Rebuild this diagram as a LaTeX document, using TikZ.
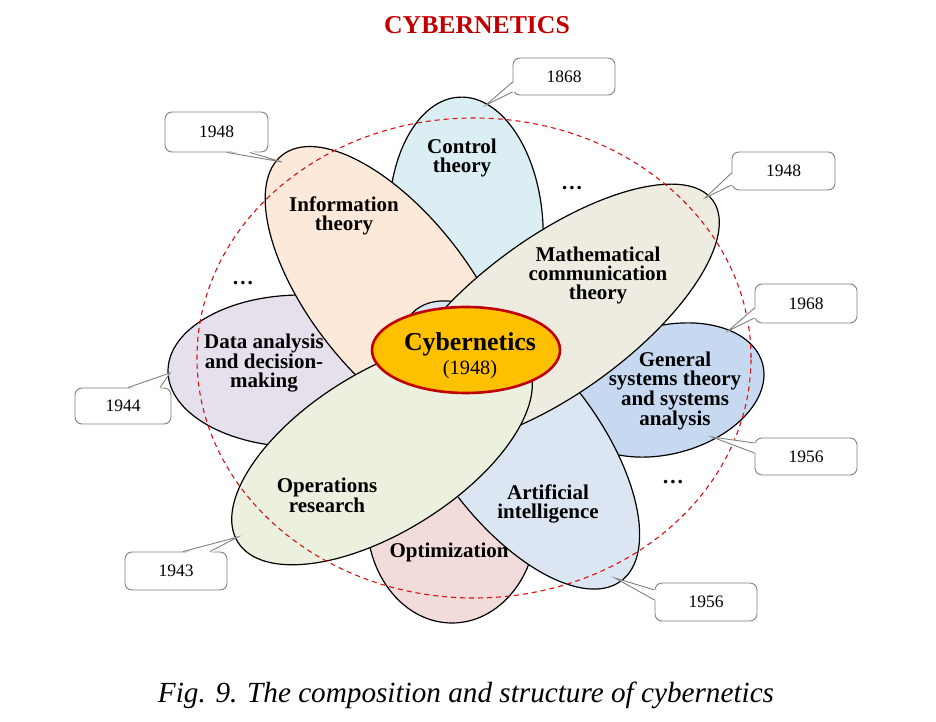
\documentclass[tikz,border=0pt]{standalone}
\usepackage{fontspec}
\setmainfont{Liberation Serif}
\usetikzlibrary{calc,shapes.geometric}
\definecolor{ctrl}{HTML}{DAEEF3}
\definecolor{info}{HTML}{FDE9D9}
\definecolor{mathc}{HTML}{EEECE1}
\definecolor{gensys}{HTML}{C6D9F1}
\definecolor{aicol}{HTML}{DCE6F2}
\definecolor{optim}{HTML}{F2DCDB}
\definecolor{opres}{HTML}{EBF1DE}
\definecolor{datac}{HTML}{E5E0EC}
\definecolor{cyb}{HTML}{FFC000}
\definecolor{darkred}{HTML}{C00000}
\definecolor{dashred}{HTML}{D81010}
\definecolor{callgray}{HTML}{808080}
\begin{document}
\begin{tikzpicture}[x=1pt,y=1pt,
  petal/.style={draw=black, line width=1.2pt},
  lbl/.style={font=\fontsize{21}{19}\selectfont\bfseries, align=center, inner sep=0pt},
  dots/.style={font=\fontsize{21.7}{20}\selectfont\bfseries, anchor=base, inner sep=0pt},
  yearbox/.style={draw=callgray, line width=0.9pt, fill=white, rounded corners=7pt,
    minimum width=102pt, minimum height=38pt, inner sep=0pt,
    font=\fontsize{17.5}{20}\selectfont},
  callline/.style={draw=callgray, line width=0.9pt, line join=miter}
]
\useasboundingbox (0,0) rectangle (936,722);

% petals (bottom to top)
\draw[petal, fill=ctrl, rotate around={3:(466,495)}] (466,495) ellipse [x radius=77pt, y radius=130pt];
\draw[petal, fill=datac] (301,351) ellipse [x radius=133pt, y radius=76pt];
\draw[petal, fill=optim] (452,202) ellipse [x radius=85pt, y radius=103pt];
\draw[petal, fill=gensys, rotate around={15:(665,332)}] (665,332) ellipse [x radius=101pt, y radius=64pt];
\draw[petal, fill=info, rotate around={-52:(390,429)}] (390,429) ellipse [x radius=175pt, y radius=80pt];
\draw[petal, fill=aicol, rotate around={-53:(519,277)}] (519,277) ellipse [x radius=170pt, y radius=80pt];
\draw[petal, fill=mathc, rotate around={36:(555,407)}] (555,407) ellipse [x radius=195pt, y radius=78pt];
\draw[petal, fill=opres, rotate around={32:(382,270)}] (382,270) ellipse [x radius=170pt, y radius=80pt];

% red dashed boundary
\draw[dashred, line width=1.1pt, dash pattern=on 5pt off 4pt] (474,364) ellipse [x radius=277pt, y radius=240pt];

% callouts
\node[yearbox, minimum height=37pt] (b1) at (564,645.5) {1868};
\node[yearbox, minimum width=103pt, minimum height=40pt] (b2) at (216.5,590) {1948};
\node[yearbox, minimum width=103pt] (b3) at (783.5,551) {1948};
\node[yearbox, minimum height=39pt] (b4) at (806,418.5) {1968};
\node[yearbox, minimum height=37pt] (b5) at (806,265.5) {1956};
\node[yearbox] (b6) at (706,120) {1956};
\node[yearbox, minimum width=96pt, minimum height=36pt] (b7) at (123,316) {1944};
\node[yearbox] (b8) at (176,151) {1943};

\coordinate (t1) at (486,617);
\coordinate (t2) at (282,560);
\coordinate (t3) at (705,524);
\coordinate (t4) at (728,391);
\coordinate (t5) at (712,285);
\coordinate (t6) at (615,144);
\coordinate (t7) at (170,349);
\coordinate (t8) at (238,185);

\fill[white] ($(b1.west)+(2,-5.5)$) -- (t1) -- ($(b1.west)+(2,-15.5)$) -- cycle;
\draw[callline] ($(b1.west)+(0,-5.5)$) -- (t1) -- ($(b1.west)+(0,-15.5)$);
\fill[white] ($(b2.south)+(10.5,2)$) -- (t2) -- ($(b2.south)+(33.5,2)$) -- cycle;
\draw[callline] ($(b2.south)+(10.5,0)$) -- (t2) -- ($(b2.south)+(33.5,0)$);
\fill[white] ($(b3.west)+(2,-2)$) -- (t3) -- ($(b3.west)+(2,-14)$) -- cycle;
\draw[callline] ($(b3.west)+(0,-2)$) -- (t3) -- ($(b3.west)+(0,-14)$);
\fill[white] ($(b4.west)+(2,-4.5)$) -- (t4) -- ($(b4.west)+(2,-14.5)$) -- cycle;
\draw[callline] ($(b4.west)+(0,-4.5)$) -- (t4) -- ($(b4.west)+(0,-14.5)$);
\fill[white] ($(b5.west)+(2,13.5)$) -- (t5) -- ($(b5.west)+(2,3.5)$) -- cycle;
\draw[callline] ($(b5.west)+(0,13.5)$) -- (t5) -- ($(b5.west)+(0,3.5)$);
\fill[white] ($(b6.west)+(2,12)$) -- (t6) -- ($(b6.west)+(2,2)$) -- cycle;
\draw[callline] ($(b6.west)+(0,12)$) -- (t6) -- ($(b6.west)+(0,2)$);
\fill[white] ($(b7.north)+(5,-2)$) -- (t7) -- ($(b7.north)+(37,-2)$) -- cycle;
\draw[callline] ($(b7.north)+(5,0)$) -- (t7) -- ($(b7.north)+(37,0)$);
\fill[white] ($(b8.north)+(7,-2)$) -- (t8) -- ($(b8.north)+(34,-2)$) -- cycle;
\draw[callline] ($(b8.north)+(7,0)$) -- (t8) -- ($(b8.north)+(34,0)$);

% labels
\node[lbl] (lctrl) at (462,564) {Control\\theory};
\node[lbl] (linfo) at (344,506) {Information\\theory};
\node[lbl] (lmath) at (598,447) {Mathematical\\communication\\theory};
\node[lbl] (lgen) at (675,331) {General\\systems theory\\and systems\\analysis};
\node[lbl] (lai) at (548,218) {Artificial\\intelligence};
\node[lbl] (lopt) at (449,170) {Optimization};
\node[lbl] (lops) at (327,227) {Operations\\research};
\node[lbl] (ldata) at (264,359) {Data analysis\\and decision-\\making};

\node[dots] (d1) at (572,532) {…};
\node[dots] (d2) at (243,437) {…};
\node[dots] (d3) at (673,238) {…};

% center
\node[ellipse, draw=darkred, line width=2.6pt, fill=cyb, minimum width=188pt, minimum height=86pt, inner sep=0pt] (cyb) at (466,372) {};
\node[font=\fontsize{25.8}{26}\selectfont\bfseries, inner sep=0pt] (cybt) at (470,378) {Cybernetics};
\node[font=\fontsize{20.3}{22}\selectfont, inner sep=0pt] (cyby) at (470,352) {(1948)};

% title and caption
\node[font=\fontsize{25.7}{26}\selectfont\bfseries, text=darkred, inner sep=0pt] (title) at (477,697) {CYBERNETICS};
\node[font=\fontsize{29.2}{30}\selectfont\itshape, inner sep=0pt] (cap) at (466,27) {Fig. 9. The composition and structure of cybernetics};
\end{tikzpicture}
\end{document}
